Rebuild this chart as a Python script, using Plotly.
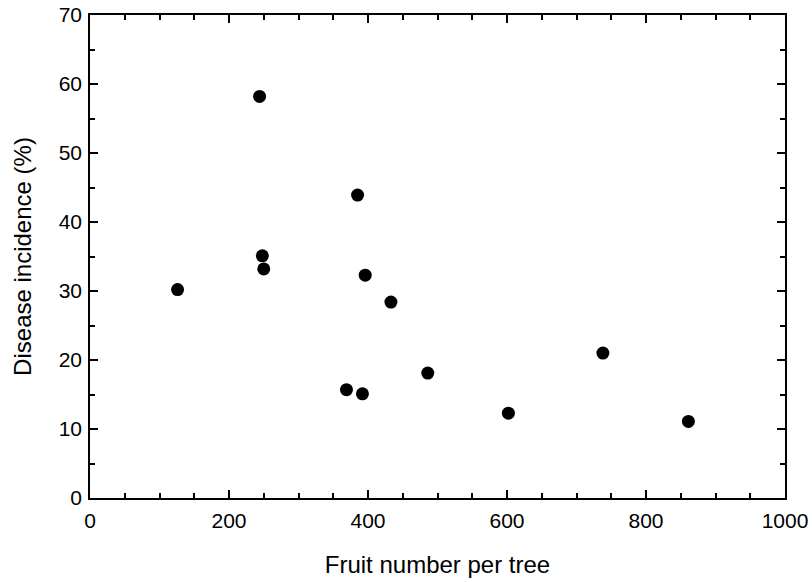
import plotly.graph_objects as go

# Fruit load per tree vs. disease incidence
fruit_number = [244, 385, 248, 250, 126, 396, 433, 486, 369, 392, 738, 602, 861]
disease_incidence = [58.2, 43.9, 35.1, 33.2, 30.2, 32.3, 28.4, 18.1, 15.7, 15.1, 21.0, 12.3, 11.1]

x_ticks = [0, 200, 400, 600, 800, 1000]
y_ticks = [0, 10, 20, 30, 40, 50, 60, 70]

font_family = "Liberation Sans, Arial, sans-serif"

fig = go.Figure(
    go.Scatter(
        x=fruit_number,
        y=disease_incidence,
        mode="markers",
        marker=dict(color="black", size=13),
        showlegend=False,
    )
)

axis_common = dict(
    showline=True,
    linecolor="black",
    linewidth=1.5,
    mirror="ticks",
    ticks="inside",
    tickcolor="black",
    tickwidth=1.5,
    ticklen=8,
    showgrid=False,
    zeroline=False,
    automargin=False,
    tickfont=dict(family=font_family, size=21, color="black"),
)

fig.update_xaxes(
    range=[0, 1000],
    tickvals=x_ticks,
    ticklabelstandoff=3,
    minor=dict(dtick=50, ticks="inside", ticklen=5, tickwidth=1.5, tickcolor="black"),
    title=dict(text="Fruit number per tree", font=dict(family=font_family, size=24, color="black"), standoff=25),
    **axis_common,
)
fig.update_yaxes(
    range=[0, 70],
    tickvals=y_ticks,
    ticklabelstandoff=2,
    minor=dict(dtick=5, ticks="inside", ticklen=5, tickwidth=1.5, tickcolor="black"),
    title=dict(text="Disease incidence (%)", font=dict(family=font_family, size=24, color="black"), standoff=20),
    **axis_common,
)

fig.update_layout(
    width=812,
    height=582,
    margin=dict(l=90, r=27, t=15, b=84),
    plot_bgcolor="white",
    paper_bgcolor="white",
)

fig.write_html("out.html")
